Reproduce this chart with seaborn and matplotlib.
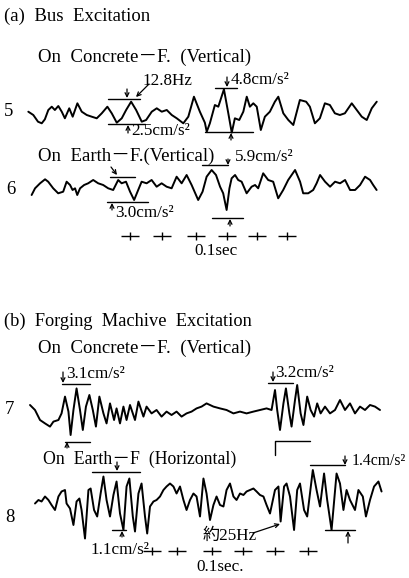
import numpy as np
import pandas as pd
import seaborn as sns
import matplotlib
matplotlib.use("Agg")
import matplotlib.pyplot as plt

sns.set_style("white")
plt.rcParams['font.family'] = ['Liberation Serif', 'Noto Sans CJK JP', 'DejaVu Sans']

# ---------------- data (time in ms, acceleration in cm/s^2 on the record scale) -------------
t5 = [1, 17, 32, 44, 54, 65, 76, 86, 97, 108, 118, 132, 143, 158, 172, 188, 204, 220, 236, 254,
      268, 284, 300, 314, 330, 346, 364, 378, 396, 412, 428, 444, 460, 476, 497, 513, 531, 550,
      566, 572, 582, 598, 609, 627, 641, 652, 662, 676, 689, 700, 710, 721, 732, 745, 758, 774,
      790, 801, 817, 833, 849, 870, 890, 902, 918, 934, 950, 966, 982, 998, 1014, 1036, 1052,
      1068, 1084, 1100, 1116]
a5 = [0.13, -0.2, -0.87, -1.03, -0.63, 0.3, 0.63, 0.3, 0.7, 0.13, -0.53, 0.47, -0.37, 0.97, 0.13,
      -0.2, -0.37, -0.53, -0.03, 0.63, -0.03, -0.97, -0.53, 0.3, 1.13, 0.3, -0.87, -0.7, 0.13, 0.47,
      0.13, 0.3, -0.2, -0.53, -1.03, -0.37, 1.63, 0.13, -0.97, -1.87, -1.03, 0.8, 0.63, 2.37, -0.03,
      -1.97, -0.53, -0.7, 0.13, 1.63, 0.63, 0.97, 0.63, -1.7, -0.37, 0.13, 1.13, 1.63, -0.03, -0.7,
      -1.2, 1.3, 1.13, 0.63, -1.03, -0.53, 0.97, 0.8, -0.03, -0.2, -0.03, 0.97, 0.3, -0.37, -0.7,
      0.47, 1.13]

t6 = [2, 13, 29, 45, 55, 71, 87, 103, 114, 125, 133, 141, 148, 157, 170, 183, 199, 215, 231, 247,
      263, 279, 290, 304, 317, 330, 343, 354, 370, 386, 402, 418, 434, 450, 466, 482, 498, 514, 535,
      549, 562, 578, 592, 605, 615, 626, 635, 642, 653, 663, 674, 690, 706, 717, 727, 743, 759, 775,
      791, 807, 823, 845, 861, 871, 887, 903, 914, 925, 941, 957, 973, 989, 1005, 1021, 1037, 1053,
      1069, 1085, 1095, 1106]
a6 = [-0.9, -0.23, 0.27, 0.67, 0.43, -0.23, -0.73, -0.57, 0.43, 0.1, -0.4, -0.23, -0.9, -0.23, 0.1,
      0.27, 0.6, 0.27, 0.1, -0.23, -0.4, 0.6, 0.27, 0.43, -0.57, -1.4, -0.4, 0.43, 0.27, 0.6, -0.07,
      0.27, -0.07, -0.23, 0.93, 0.27, 1.1, 0.1, -1.4, -0.57, 0.93, 1.6, 1.1, -0.07, -0.73, -2.4,
      -0.23, 0.77, 1.1, 0.6, 0.43, -0.73, -0.07, 0.1, -0.23, 1.27, 0.6, 0.43, -1.23, -0.4, 0.6, 1.6,
      0.43, -0.73, -0.73, -0.4, 0.27, 1.1, 0.43, -0.07, 0.43, 0.27, 0.6, -0.4, -0.4, 0.1, 0.93, 0.6,
      0.1, -0.4]

t7 = [0, 16, 32, 48, 64, 75, 91, 101, 112, 123, 130, 139, 149, 160, 169, 179, 190, 201, 211, 222,
      235, 245, 256, 269, 277, 288, 299, 309, 320, 336, 347, 363, 373, 389, 405, 421, 437, 453, 469,
      485, 501, 517, 533, 549, 565, 587, 608, 629, 651, 672, 693, 715, 736, 757, 773, 784, 791, 800,
      811, 819, 830, 837, 848, 855, 866, 875, 887, 898, 909, 919, 930, 944, 960, 976, 992, 1008,
      1024, 1040, 1056, 1072, 1088, 1104, 1120]
a7 = [0.25, 0, -0.5, -0.67, -0.83, -0.58, -0.5, -0.17, 0.67, -0.08, -1.25, 0, 1.08, 0, -1.0, 0.17,
      0.75, 0, -0.83, 0.67, -0.17, -0.67, 0.33, -0.5, 0.08, -0.67, 0.17, -0.5, 0.25, -0.5, 0.42,
      -0.33, 0.17, -0.17, 0, -0.33, -0.08, -0.25, -0.08, -0.33, -0.17, -0.08, 0.08, 0.17, 0.33,
      0.17, 0.08, 0, -0.17, -0.08, -0.17, -0.08, 0, 0.08, 0, 1.0, 0, -1.0, 0.33, 1.08, -0.17, -0.83,
      0.5, 1.25, -0.17, -0.75, 0.67, 0, -0.33, 0.33, -0.17, 0.17, -0.17, 0, 0.5, 0, 0.33, -0.17,
      0.17, 0, 0.25, 0.17, 0]

t8 = [0, 11, 21, 32, 43, 53, 64, 75, 85, 96, 101, 112, 123, 133, 142, 149, 160, 171, 178, 189, 199,
      210, 219, 229, 240, 251, 261, 272, 283, 293, 302, 313, 320, 331, 341, 352, 359, 368, 379, 389,
      400, 411, 421, 432, 443, 453, 464, 475, 485, 496, 507, 517, 528, 539, 549, 560, 571, 581, 592,
      603, 613, 624, 635, 645, 656, 667, 677, 688, 699, 709, 720, 731, 741, 752, 768, 779, 786, 797,
      805, 816, 829, 839, 848, 861, 871, 889, 901, 912, 925, 935, 949, 965, 976, 987, 997, 1008,
      1024, 1035, 1049, 1059, 1072, 1085, 1099, 1109]
a8 = [-0.07, 0, -0.03, 0.07, 0, -0.1, -0.2, 0.07, 0.17, 0.2, -0.07, -0.17, -0.5, -0.03, 0.03, -0.2,
      -0.77, 0.2, 0.23, -0.2, -0.33, 0.13, 0.47, 0, -0.33, 0.1, 0.37, -0.27, -0.6, 0.27, 0.43, -0.33,
      -0.63, 0.13, 0.33, -0.33, -0.67, -0.13, -0.03, 0, 0.07, 0.2, 0.27, 0.33, 0.27, 0.13, 0.27, 0,
      -0.2, 0, 0.13, 0.07, -0.33, 0.43, 0.13, -0.4, -0.1, 0.07, -0.1, -0.13, 0.2, 0.33, 0.07, 0,
      0.13, 0.1, 0.17, 0.2, 0.23, 0.17, 0.1, 0.07, -0.1, -0.27, 0.2, 0.27, -0.43, 0.27, 0.33, 0.07,
      -0.6, 0.2, 0.33, -0.2, -0.33, 0.6, 0.2, -0.13, 0.53, 0, -0.6, 0.53, 0.33, -0.2, 0.2, 0, -0.2,
      0.2, 0.07, -0.33, 0, 0.27, 0.37, 0.17]

# 0.1 s time marks (ms, relative to trace start)
marks_a = [317, 419, 528, 627, 723, 819]
marks_b = [373, 453, 565, 667, 768, 875]

# ---------------- layout ----------------
W, H = 410, 578
fig = plt.figure(figsize=(W / 100, H / 100), dpi=100)
fig.patch.set_facecolor('white')

MS_PER_PX = 3.2


def trace_axes(x0, base, gain):
    ax = fig.add_axes([0, 0, 1, 1])
    ax.set_xlim(-x0 * MS_PER_PX, (W - x0) * MS_PER_PX)
    ax.set_ylim((base - H) / gain, base / gain)
    ax.set_axis_off()
    ax.patch.set_alpha(0)
    return ax


def draw_trace(ax, t, a):
    df = pd.DataFrame({'t': t, 'a': a})
    sns.lineplot(data=df, x='t', y='a', ax=ax, color='black', lw=1.4, sort=False,
                 estimator=None)


def draw_marks(ax, marks, level):
    dfm = pd.DataFrame({'t': marks, 'a': [level] * len(marks)})
    sns.scatterplot(data=dfm, x='t', y='a', ax=ax, marker='_', s=180, color='black',
                    linewidth=1.0)
    sns.scatterplot(data=dfm, x='t', y='a', ax=ax, marker='|', s=40, color='black',
                    linewidth=1.0)


ax5 = trace_axes(28, 113, 10)
draw_trace(ax5, t5, a5)
ax6 = trace_axes(31, 186, 10)
draw_trace(ax6, t6, a6)
draw_marks(ax6, marks_a, -5.0)
ax7 = trace_axes(30, 410, 20)
draw_trace(ax7, t7, a7)
ax8 = trace_axes(35, 500, 50)
draw_trace(ax8, t8, a8)
draw_marks(ax8, marks_b, -1.02)

# overlay for labels / annotations (pixel coordinates)
ov = fig.add_axes([0, 0, 1, 1])
ov.set_xlim(0, W)
ov.set_ylim(H, 0)
ov.set_axis_off()
ov.patch.set_alpha(0)

FS = 13.5
FS2 = 12.3


def txt(x, y, s, fs=FS2):
    ov.text(x, y, s, fontsize=fs, va='center', ha='left', color='black')


txt(4, 16, "(a)  Bus  Excitation", FS)
txt(38, 57, "On  Concrete－F.  (Vertical)", FS)
txt(143, 81, "12.8Hz")
txt(231, 80, "4.8cm/s²")
txt(4, 112, "5", FS)
txt(131, 131, "2.5cm/s²")
txt(38, 156, "On  Earth－F.(Vertical)", FS)
txt(235, 157, "5.9cm/s²")
txt(6, 190, "6", FS)
txt(115, 213, "3.0cm/s²")
txt(194, 251, "0.1sec")
txt(4, 321, "(b)  Forging  Machive  Excitation", 13.2)
txt(38, 348, "On  Concrete－F.  (Vertical)", FS)
txt(66, 374, "3.1cm/s²")
txt(275, 373, "3.2cm/s²")
txt(5, 410, "7", FS)
txt(43, 459, "On  Earth－F  (Horizontal)", 12.8)
txt(352, 461, "1.4cm/s²", 11.3)
txt(5, 518, "8", FS)
txt(203, 536, "約25Hz")
txt(91, 550, "1.1cm/s²")
txt(196, 567, "0.1sec.")


def hline(x1, x2, y):
    ov.plot([x1, x2], [y, y], color='black', lw=1.0)


def arrow(x1, y1, x2, y2):
    ov.annotate("", xy=(x2, y2), xytext=(x1, y1),
                arrowprops=dict(arrowstyle='->', lw=0.9, color='black',
                                shrinkA=0, shrinkB=0, mutation_scale=7))


# trace 5 annotations
hline(108, 140, 98.7)
hline(108, 145, 124)
arrow(127, 89, 127, 98)
arrow(149, 84, 136, 97)
arrow(128, 133, 128, 125)
hline(215, 237, 88)
arrow(227, 77, 227, 87)
hline(205, 253, 131.7)
arrow(231, 140, 231, 133)
# trace 6 annotations
hline(202, 228, 165)
arrow(228, 159, 228, 165)
hline(110, 135, 176.7)
arrow(111, 167, 117, 175)
hline(107, 148, 202)
arrow(112, 210, 112, 203)
hline(212, 243, 218)
arrow(230, 226, 230, 219)
# trace 7 annotations
hline(62, 90, 384)
arrow(63, 372, 63, 383)
hline(65, 90, 442)
arrow(67, 448, 67, 442)
hline(268, 293, 383)
arrow(273, 372, 273, 382)
ov.plot([275, 275, 310], [455, 441, 441], color='black', lw=1.0)
# trace 8 annotations
hline(92, 140, 471.7)
arrow(117, 462, 117, 471)
hline(310, 345, 465)
arrow(345, 456, 345, 465)
hline(325, 355, 530)
arrow(348, 543, 348, 531)
hline(112, 126, 530)
arrow(122, 537, 122, 531)
arrow(253, 533, 280, 524)

fig.savefig("out.png", dpi=100, facecolor='white')
